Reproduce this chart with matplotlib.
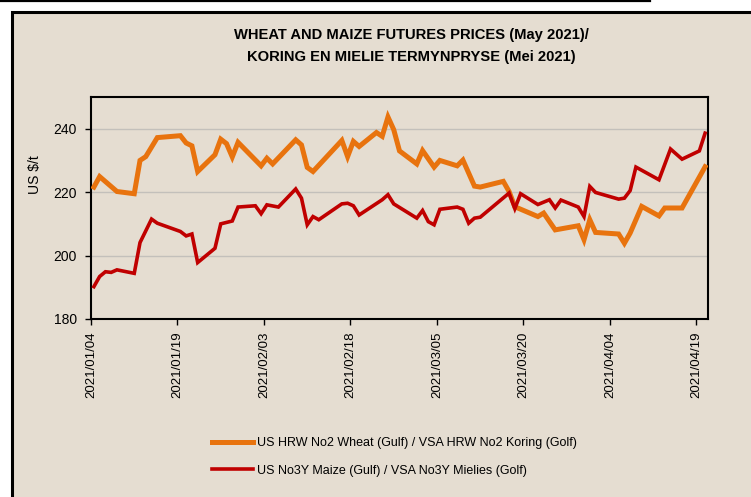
import matplotlib
matplotlib.use("Agg")
import matplotlib.pyplot as plt
import matplotlib.dates as mdates
from matplotlib.patches import Rectangle
from matplotlib.lines import Line2D
import pandas as pd

# --- data (US$/t) ---
wheat_dates = [
    "2021-01-04", "2021-01-05", "2021-01-08", "2021-01-11", "2021-01-12", "2021-01-13",
    "2021-01-15", "2021-01-19", "2021-01-20", "2021-01-21", "2021-01-22", "2021-01-25",
    "2021-01-26", "2021-01-27", "2021-01-28", "2021-01-29", "2021-02-02", "2021-02-03",
    "2021-02-04", "2021-02-08", "2021-02-09", "2021-02-10", "2021-02-11", "2021-02-16",
    "2021-02-17", "2021-02-18", "2021-02-19", "2021-02-22", "2021-02-23", "2021-02-24",
    "2021-02-25", "2021-02-26", "2021-03-01", "2021-03-02", "2021-03-04", "2021-03-05",
    "2021-03-08", "2021-03-09", "2021-03-11", "2021-03-12", "2021-03-16", "2021-03-17",
    "2021-03-18", "2021-03-22", "2021-03-23", "2021-03-25", "2021-03-29", "2021-03-30",
    "2021-03-31", "2021-04-01", "2021-04-05", "2021-04-06", "2021-04-07", "2021-04-09",
    "2021-04-12", "2021-04-13", "2021-04-16", "2021-04-20",
]
wheat_prices = [
    221.6, 224.9, 220.2, 219.5, 230.0, 231.2,
    237.2, 237.8, 235.5, 234.6, 226.5, 231.8,
    236.7, 235.3, 231.1, 235.7, 228.3, 230.7,
    228.9, 236.5, 234.9, 227.8, 226.5, 236.3,
    231.2, 236.0, 234.4, 238.8, 237.6, 243.7,
    239.7, 233.0, 228.9, 233.1, 227.9, 230.0,
    228.3, 230.1, 221.9, 221.6, 223.4, 220.2,
    215.4, 212.3, 213.4, 208.1, 209.4, 205.0,
    211.3, 207.3, 206.8, 203.9, 207.1, 215.5,
    212.5, 215.0, 215.0, 228.0,
]

maize_dates = [
    "2021-01-04", "2021-01-05", "2021-01-06", "2021-01-07", "2021-01-08", "2021-01-11",
    "2021-01-12", "2021-01-14", "2021-01-15", "2021-01-19", "2021-01-20", "2021-01-21",
    "2021-01-22", "2021-01-25", "2021-01-26", "2021-01-28", "2021-01-29", "2021-02-01",
    "2021-02-02", "2021-02-03", "2021-02-05", "2021-02-08", "2021-02-09", "2021-02-10",
    "2021-02-11", "2021-02-12", "2021-02-16", "2021-02-17", "2021-02-18", "2021-02-19",
    "2021-02-23", "2021-02-24", "2021-02-25", "2021-03-01", "2021-03-02", "2021-03-03",
    "2021-03-04", "2021-03-05", "2021-03-08", "2021-03-09", "2021-03-10", "2021-03-11",
    "2021-03-12", "2021-03-17", "2021-03-18", "2021-03-19", "2021-03-22", "2021-03-24",
    "2021-03-25", "2021-03-26", "2021-03-29", "2021-03-30", "2021-03-31", "2021-04-01",
    "2021-04-05", "2021-04-06", "2021-04-07", "2021-04-08", "2021-04-12", "2021-04-14",
    "2021-04-16", "2021-04-19", "2021-04-20",
]
maize_prices = [
    190.2, 193.4, 194.9, 194.7, 195.5, 194.4,
    204.1, 211.5, 210.2, 207.6, 206.2, 206.8,
    197.8, 202.3, 210.0, 210.9, 215.3, 215.7,
    213.2, 216.0, 215.3, 221.0, 218.1, 209.7,
    212.3, 211.3, 216.3, 216.5, 215.7, 212.8,
    217.6, 219.2, 216.3, 211.8, 214.2, 210.7,
    209.7, 214.6, 215.3, 214.6, 210.2, 211.8,
    212.1, 219.7, 214.8, 219.5, 216.1, 217.6,
    215.0, 217.5, 215.3, 212.3, 221.8, 219.9,
    217.8, 218.1, 220.5, 227.9, 223.9, 233.6,
    230.4, 233.0, 238.6,
]

tick_dates = ["2021-01-04", "2021-01-19", "2021-02-03", "2021-02-18",
              "2021-03-05", "2021-03-20", "2021-04-04", "2021-04-19"]

wheat_label = "US HRW No2 Wheat (Gulf) / VSA HRW No2 Koring (Golf)"
maize_label = "US No3Y Maize (Gulf) / VSA No3Y Mielies (Golf)"

# --- styling ---
BEIGE = "#e5ddd1"
ORANGE = "#e8730e"
RED = "#c00000"
NARROW = ["Liberation Sans Narrow", "Liberation Sans", "DejaVu Sans"]
REGULAR = ["Liberation Sans", "DejaVu Sans"]

W, H = 751, 497
fig = plt.figure(figsize=(W / 100, H / 100), dpi=100, facecolor="white")

# outer frame: beige panel, with only its left and top edges in view
fig.add_artist(Rectangle((11.5 / W, 0), 1, 1 - 11.5 / H, transform=fig.transFigure,
                         facecolor=BEIGE, edgecolor="none", zorder=0))
fig.add_artist(Line2D([11.5 / W, 11.5 / W, 1], [0, 1 - 11.5 / H, 1 - 11.5 / H],
                      transform=fig.transFigure, color="black", linewidth=2.2,
                      solid_joinstyle="miter"))
fig.add_artist(Line2D([0, 650 / W], [1 - 1 / H, 1 - 1 / H], transform=fig.transFigure,
                      color="black", linewidth=1.6))

ax = fig.add_axes([91 / W, 1 - 319 / H, 617 / W, 222 / H])
ax.set_facecolor(BEIGE)

# points sit in the middle of their day like an Excel date axis
half_day = pd.Timedelta(hours=12)
wheat_x = pd.to_datetime(wheat_dates) + half_day
maize_x = pd.to_datetime(maize_dates) + half_day

ax.plot(wheat_x, wheat_prices, color=ORANGE, linewidth=3.6, solid_joinstyle="miter",
        label=wheat_label, zorder=3)
ax.plot(maize_x, maize_prices, color=RED, linewidth=2.6, solid_joinstyle="miter",
        label=maize_label, zorder=4)

ax.set_ylim(180, 250)
ax.set_yticks([180, 200, 220, 240])
ax.set_xlim(pd.Timestamp("2021-01-04"), pd.Timestamp("2021-04-21"))
ax.set_xticks(pd.to_datetime(tick_dates))
ax.xaxis.set_major_formatter(mdates.DateFormatter("%Y/%m/%d"))

for y in [200, 220, 240]:
    ax.axhline(y, color="#c3c0bb", linewidth=1.0, zorder=1)

for s in ax.spines.values():
    s.set_linewidth(1.5)
    s.set_color("black")

ax.tick_params(axis="both", direction="out", length=4, width=1.0, colors="black")
ax.tick_params(axis="y", pad=6)
ax.tick_params(axis="x", pad=5)
for lab in ax.get_yticklabels():
    lab.set_fontfamily(NARROW)
    lab.set_fontsize(10)
for lab in ax.get_xticklabels():
    lab.set_fontfamily(NARROW)
    lab.set_fontsize(9.5)
    lab.set_rotation(90)

fig.text(35 / W, 1 - 175 / H, "US $/t", rotation=90, ha="center", va="center",
         family=NARROW, fontsize=10)

# title
fig.text(411 / W, 1 - 35 / H, "WHEAT AND MAIZE FUTURES PRICES (May 2021)/",
         ha="center", va="center", family=NARROW, fontsize=10.6, fontweight="bold")
fig.text(411 / W, 1 - 57 / H, "KORING EN MIELIE TERMYNPRYSE (Mei 2021)",
         ha="center", va="center", family=NARROW, fontsize=10.6, fontweight="bold")

# legend below the plot
fig.legend(loc="upper left", bbox_to_anchor=(212 / W, 1 - 437 / H), frameon=False,
           prop={"family": REGULAR, "size": 9}, handlelength=3.3, handletextpad=0.3,
           labelspacing=1.25, borderpad=0, borderaxespad=0)

fig.savefig("out.png", dpi=100, facecolor="white")
